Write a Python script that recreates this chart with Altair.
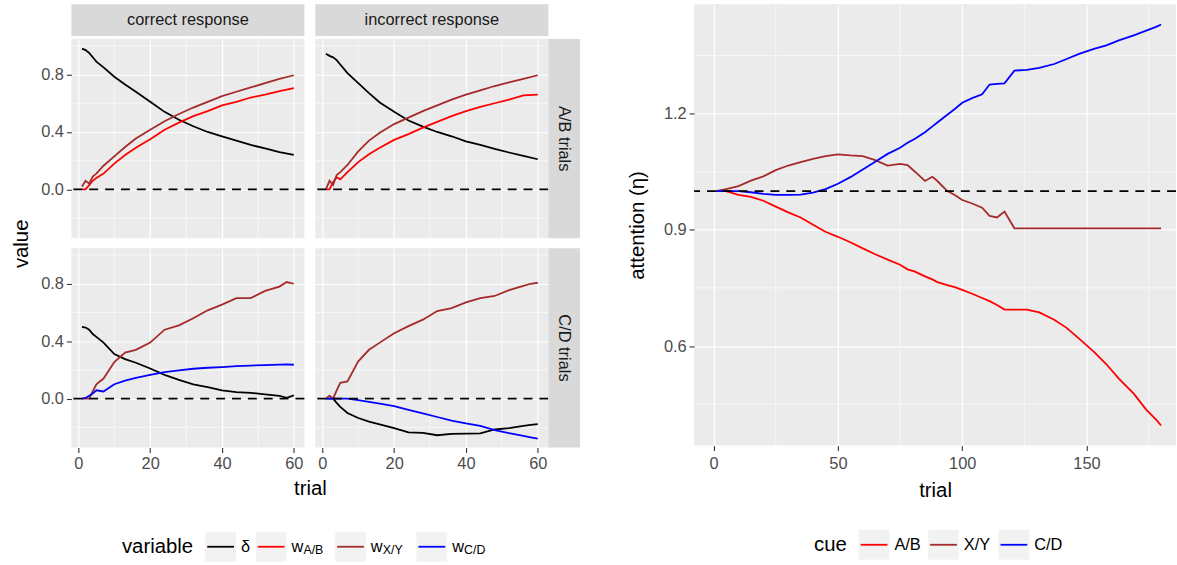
import altair as alt
import pandas as pd

FONT = "Liberation Sans"

# ---------------- data ----------------
series_keys = ["delta", "wAB", "wXY", "wCD"]
series_colors = ["#000000", "#FF0000", "#A52A2A", "#0000FF"]

trials_ab = [1, 2, 3, 4, 5, 7, 10, 13, 16, 20, 24, 28, 32, 36, 40, 44, 48, 52, 56, 60]
correct_ab_delta = [0.98, 0.97, 0.95, 0.92, 0.89, 0.85, 0.785, 0.73, 0.68, 0.61, 0.54, 0.485, 0.44, 0.40, 0.37, 0.34, 0.31, 0.285, 0.26, 0.24]
correct_ab_wab = [0.0, 0.0, 0.03, 0.06, 0.08, 0.11, 0.18, 0.24, 0.29, 0.35, 0.415, 0.465, 0.51, 0.545, 0.585, 0.61, 0.64, 0.66, 0.685, 0.705]
correct_ab_wxy = [0.02, 0.06, 0.04, 0.09, 0.11, 0.165, 0.23, 0.295, 0.355, 0.415, 0.475, 0.525, 0.57, 0.61, 0.65, 0.68, 0.71, 0.74, 0.77, 0.795]
incorrect_ab_delta = [0.945, 0.93, 0.92, 0.90, 0.87, 0.81, 0.74, 0.67, 0.605, 0.54, 0.48, 0.437, 0.40, 0.37, 0.335, 0.31, 0.283, 0.257, 0.233, 0.21]
incorrect_ab_wab = [0.0, 0.0, 0.05, 0.085, 0.07, 0.12, 0.19, 0.245, 0.29, 0.345, 0.385, 0.43, 0.47, 0.51, 0.545, 0.575, 0.60, 0.625, 0.655, 0.66]
incorrect_ab_wxy = [0.0, 0.06, 0.03, 0.10, 0.12, 0.17, 0.265, 0.34, 0.395, 0.455, 0.50, 0.545, 0.585, 0.625, 0.66, 0.69, 0.72, 0.745, 0.77, 0.795]

trials_cd = [1, 2, 3, 4, 5, 7, 10, 13, 16, 20, 24, 28, 32, 36, 40, 44, 48, 52, 56, 58, 60]
correct_cd_delta = [0.50, 0.495, 0.48, 0.45, 0.43, 0.39, 0.31, 0.275, 0.25, 0.21, 0.165, 0.13, 0.10, 0.08, 0.058, 0.045, 0.04, 0.03, 0.02, 0.005, 0.022]
correct_cd_wxy = [0.0, 0.0, 0.0, 0.05, 0.10, 0.14, 0.255, 0.32, 0.34, 0.39, 0.48, 0.51, 0.56, 0.615, 0.655, 0.70, 0.70, 0.75, 0.78, 0.812, 0.80]
correct_cd_wcd = [0.0, 0.005, 0.02, 0.035, 0.058, 0.05, 0.10, 0.125, 0.145, 0.165, 0.185, 0.197, 0.208, 0.215, 0.22, 0.226, 0.23, 0.234, 0.237, 0.238, 0.236]
incorrect_cd_delta = [0.0, 0.0, 0.0, -0.03, -0.058, -0.10, -0.135, -0.16, -0.18, -0.205, -0.235, -0.238, -0.255, -0.245, -0.244, -0.242, -0.215, -0.205, -0.19, -0.183, -0.178]
incorrect_cd_wxy = [0.0, 0.02, 0.0, 0.058, 0.11, 0.12, 0.26, 0.34, 0.39, 0.455, 0.505, 0.55, 0.61, 0.63, 0.67, 0.70, 0.715, 0.755, 0.785, 0.80, 0.807]
incorrect_cd_wcd = [0.0, 0.0, 0.0, 0.0, 0.0, 0.0, -0.01, -0.022, -0.034, -0.052, -0.078, -0.103, -0.128, -0.153, -0.173, -0.19, -0.219, -0.241, -0.26, -0.27, -0.279]

trials_all = [1, 5, 10, 15, 20, 25, 30, 35, 40, 45, 50, 55, 60, 65, 70, 75, 78, 81, 85, 88,
              90, 94, 97, 100, 104, 108, 111, 114, 117, 121, 126, 131, 137, 142, 147, 153,
              158, 163, 169, 174, 178, 180]
att_ab = [1.0, 1.0, 0.99, 0.985, 0.975, 0.96, 0.945, 0.932, 0.913, 0.895, 0.882, 0.868, 0.852,
          0.837, 0.823, 0.81, 0.798, 0.792, 0.78, 0.772, 0.765, 0.757, 0.752, 0.745, 0.735,
          0.724, 0.716, 0.706, 0.694, 0.694, 0.694, 0.687, 0.668, 0.647, 0.619, 0.585, 0.553,
          0.516, 0.477, 0.436, 0.41, 0.395]
att_xy = [1.0, 1.005, 1.013, 1.027, 1.038, 1.054, 1.066, 1.075, 1.083, 1.09, 1.095, 1.092, 1.09,
          1.08, 1.066, 1.07, 1.067, 1.05, 1.026, 1.037, 1.026, 1.0, 0.99, 0.977, 0.968, 0.957,
          0.936, 0.932, 0.947, 0.904, 0.904, 0.904, 0.904, 0.904, 0.904, 0.904, 0.904, 0.904,
          0.904, 0.904, 0.904, 0.904]
att_cd = [1.0, 1.0, 1.0, 0.997, 0.993, 0.99, 0.99, 0.991, 0.996, 1.005, 1.019, 1.036, 1.056,
          1.076, 1.096, 1.112, 1.125, 1.135, 1.152, 1.167, 1.177, 1.197, 1.212, 1.228, 1.24,
          1.25, 1.275, 1.277, 1.278, 1.311, 1.313, 1.318, 1.328, 1.341, 1.354, 1.367, 1.376,
          1.389, 1.402, 1.414, 1.424, 1.43]

cue_keys = ["A/B", "X/Y", "C/D"]
cue_colors = ["#FF0000", "#A52A2A", "#0000FF"]

col_labels = ["correct response", "incorrect response"]
row_labels = ["A/B trials", "C/D trials"]


def frame(trials, cols, key="series"):
    rows = []
    for name, vals in cols.items():
        for t, v in zip(trials, vals):
            rows.append({"trial": t, "value": v, key: name})
    return pd.DataFrame(rows)


panel_data = {
    (0, 0): frame(trials_ab, {"delta": correct_ab_delta, "wAB": correct_ab_wab, "wXY": correct_ab_wxy}),
    (0, 1): frame(trials_ab, {"delta": incorrect_ab_delta, "wAB": incorrect_ab_wab, "wXY": incorrect_ab_wxy}),
    (1, 0): frame(trials_cd, {"delta": correct_cd_delta, "wXY": correct_cd_wxy, "wCD": correct_cd_wcd}),
    (1, 1): frame(trials_cd, {"delta": incorrect_cd_delta, "wXY": incorrect_cd_wxy, "wCD": incorrect_cd_wcd}),
}
att_df = frame(trials_all, {"A/B": att_ab, "X/Y": att_xy, "C/D": att_cd}, key="cue")

# ---------------- styling / layout ----------------
W, H = 235, 201
GAP = 11
STRIP = 32
X_DOM = [-1.95, 62.95]
Y_DOM = [-0.341, 1.047]
LW = 1.8
KEY_BG = "#F2F2F2"
STRIP_BG = "#D9D9D9"
TXT = 16.5
TITLE = 20.5
DASH = [9, 7]

one = pd.DataFrame({"k": [0]})


def deco_text(text, x, y, size=TXT, color="#1A1A1A", align="center", angle=0, baseline="middle"):
    return alt.Chart(one).mark_text(text=text, font=FONT, fontSize=size, color=color,
                                    align=align, baseline=baseline, angle=angle).encode(
        x=alt.value(x), y=alt.value(y))


def deco_rect(x, x2, y, y2, fill):
    return alt.Chart(one).mark_rect(fill=fill).encode(
        x=alt.value(x), x2=alt.value(x2), y=alt.value(y), y2=alt.value(y2))


def deco_seg(x, x2, y, color):
    return alt.Chart(one).mark_rule(color=color, strokeWidth=LW).encode(
        x=alt.value(x), x2=alt.value(x2), y=alt.value(y))


def legend_layers(title, title_x, yc, items):
    out = [deco_text(title, title_x, yc, size=TITLE, color="black", align="left")]
    for box_x, color, label, sub in items:
        out.append(deco_rect(box_x, box_x + 31, yc - 15, yc + 15, KEY_BG))
        out.append(deco_seg(box_x + 2, box_x + 29, yc, color))
        lx = box_x + 36
        out.append(deco_text(label, lx, yc, size=TXT, color="black", align="left"))
        if sub:
            out.append(deco_text(sub, lx + 12, yc + 3, size=12.5, color="black", align="left"))
    return out


def left_panel(r, c):
    df = panel_data[(r, c)]
    show_x = r == 1
    show_y = c == 0
    xs = alt.Scale(domain=X_DOM, nice=False, zero=False)
    ys = alt.Scale(domain=Y_DOM, nice=False, zero=False)
    x_axis = alt.Axis(values=[0, 20, 40, 60], grid=True, labels=show_x, ticks=show_x,
                      title="trial" if (show_x and c == 0) else None,
                      titleX=(2 * W + GAP) / 2, titlePadding=7)
    y_axis = alt.Axis(values=[0.0, 0.4, 0.8], grid=True, labels=show_y, ticks=show_y, format=".1f",
                      title="value" if (show_y and r == 0) else None,
                      titleY=(2 * H + 10) / 2, titlePadding=9)

    def X():
        return alt.X("trial:Q", scale=xs, axis=x_axis)

    def Y():
        return alt.Y("value:Q", scale=ys, axis=y_axis)

    layers = [
        alt.Chart(pd.DataFrame({"value": [-0.2, 0.2, 0.6, 1.0]})).mark_rule(
            color="white", strokeWidth=0.6).encode(y=Y()),
        alt.Chart(pd.DataFrame({"trial": [10, 30, 50]})).mark_rule(
            color="white", strokeWidth=0.6).encode(x=X()),
        alt.Chart(df).mark_line(strokeWidth=LW).encode(
            x=X(), y=Y(),
            color=alt.Color("series:N", scale=alt.Scale(domain=series_keys, range=series_colors),
                            legend=None)),
        alt.Chart(pd.DataFrame({"value": [0.0]})).mark_rule(
            color="black", strokeDash=DASH, strokeWidth=1.8).encode(y=Y()),
    ]
    if c == 1:
        layers.append(deco_rect(W, W + STRIP, 0, H, STRIP_BG))
        layers.append(deco_text(row_labels[r], W + STRIP / 2, H / 2, angle=90))
    if r == 1 and c == 0:
        yc = 301
        layers += legend_layers("variable", 51, yc, [
            (135, "#000000", "δ", None),
            (186, "#FF0000", "w", "A/B"),
            (266, "#A52A2A", "w", "X/Y"),
            (348, "#0000FF", "w", "C/D"),
        ])
    return alt.layer(*layers).properties(width=W, height=H)


grid = alt.concat(left_panel(0, 0), left_panel(0, 1), left_panel(1, 0), left_panel(1, 1),
                  columns=2, spacing={"row": 10, "column": GAP}, bounds="flush")

# column strips on top
strip_df = pd.DataFrame({"label": col_labels})
sx = alt.X("label:N", axis=None,
           scale=alt.Scale(domain=col_labels, paddingInner=GAP / (W + GAP), paddingOuter=0))
strips = alt.layer(
    alt.Chart(strip_df).mark_rect(fill=STRIP_BG).encode(x=sx, y=alt.value(0), y2=alt.value(STRIP)),
    alt.Chart(strip_df).mark_text(font=FONT, fontSize=TXT, color="#1A1A1A", baseline="middle").encode(
        x=sx, y=alt.value(STRIP / 2), text="label:N"),
).properties(width=2 * W + GAP, height=STRIP, view=alt.ViewBackground(fill="white", stroke="white"))

left_block = alt.vconcat(strips, grid, spacing=1)

# ---------------- right panel ----------------
W2, H2 = 486, 445
xs2 = alt.Scale(domain=[-7.86, 186.0], nice=False, zero=False)
ys2 = alt.Scale(domain=[0.343, 1.482], nice=False, zero=False)
x_axis2 = alt.Axis(values=[0, 50, 100, 150], grid=True, title="trial", titlePadding=9,
                   labelPadding=5)
y_axis2 = alt.Axis(values=[0.6, 0.9, 1.2], grid=True, format=".1f", title="attention (η)",
                   titlePadding=16)


def X2():
    return alt.X("trial:Q", scale=xs2, axis=x_axis2)


def Y2():
    return alt.Y("value:Q", scale=ys2, axis=y_axis2)


right_layers = [
    alt.Chart(pd.DataFrame({"value": [0.45, 0.75, 1.05, 1.35]})).mark_rule(
        color="white", strokeWidth=0.6).encode(y=Y2()),
    alt.Chart(pd.DataFrame({"trial": [25, 75, 125, 175]})).mark_rule(
        color="white", strokeWidth=0.6).encode(x=X2()),
    alt.Chart(att_df).mark_line(strokeWidth=LW).encode(
        x=X2(), y=Y2(),
        color=alt.Color("cue:N", scale=alt.Scale(domain=cue_keys, range=cue_colors), legend=None)),
    alt.Chart(pd.DataFrame({"value": [1.0]})).mark_rule(
        color="black", strokeDash=DASH, strokeWidth=1.8).encode(y=Y2()),
]
right_layers += legend_layers("cue", 121, 545, [
    (166, "#FF0000", "A/B", None),
    (236, "#A52A2A", "X/Y", None),
    (307, "#0000FF", "C/D", None),
])
right = alt.layer(*right_layers).properties(width=W2, height=H2)

chart = alt.hconcat(left_block, right, spacing=48).resolve_scale(
    color="independent"
).configure_view(
    fill="#EBEBEB", stroke=None
).configure_axis(
    labelFont=FONT, labelFontSize=TXT, labelColor="#4D4D4D", labelPadding=3,
    tickColor="#333333", tickWidth=1.1, tickSize=5, domain=False,
    gridColor="white", gridWidth=1.2,
    titleFont=FONT, titleFontSize=TITLE, titleColor="black", titleFontWeight="normal",
).properties(
    padding={"left": 12, "top": 1, "right": 0, "bottom": 0}, background="white"
)

chart.save("out.html", embed_options={"renderer": "svg", "actions": False})
